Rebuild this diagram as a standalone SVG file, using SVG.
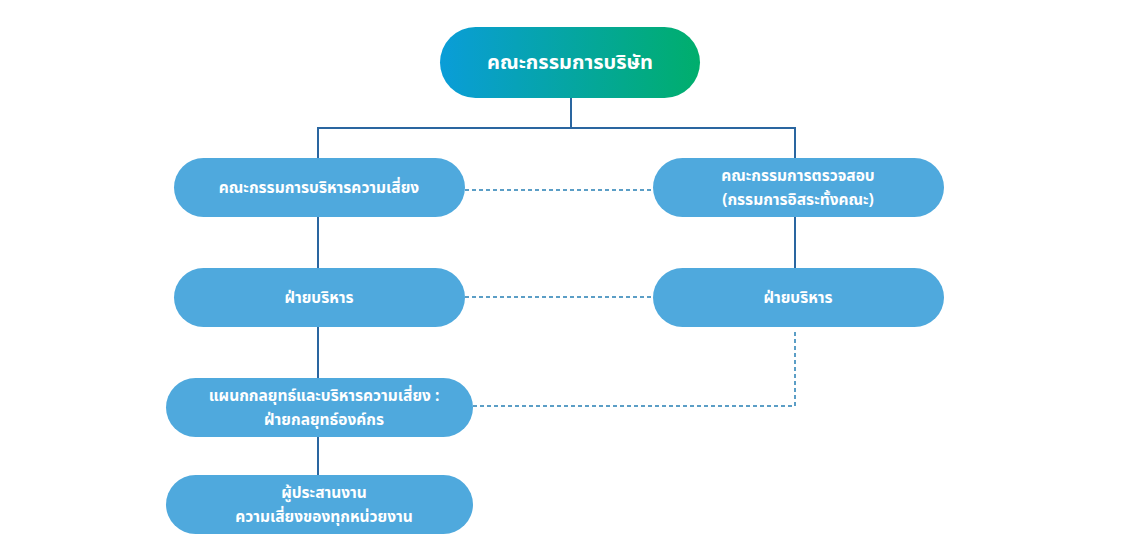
<svg xmlns="http://www.w3.org/2000/svg" width="1140" height="535" viewBox="0 0 1140 535">
<style>
.box{fill:#4fa9dd}
.t{font-family:"Noto Sans Thai","Noto Sans Thai Looped","Noto Sans",sans-serif;font-weight:bold;fill:#ffffff;text-anchor:middle;font-size:15.5px}
.top{font-size:20px}
.solid{stroke:#2a66a0;stroke-width:2;fill:none}
.dash{stroke:#5b9ec6;stroke-width:2;fill:none;stroke-dasharray:4 3}
</style>
<defs>
<linearGradient id="g" x1="0" y1="0" x2="1" y2="0">
<stop offset="0" stop-color="#0a9dd8"/>
<stop offset="1" stop-color="#00ae6c"/>
</linearGradient>
</defs>
<rect width="1140" height="535" fill="#ffffff"/>
<g id="connectors">
<path class="solid" d="M571,98 V128 M318,128 H795 M318,127 V158 M795,127 V158"/>
<path class="solid" d="M318,217 V268 M318,327 V378 M318,437 V475 M795,217 V268"/>
<path class="dash" d="M465,190 H653 M465,297 H653 M795,332 V406 H473"/>
</g>
<g id="n0">
<rect x="440" y="27" width="260" height="71" rx="35.5" fill="url(#g)"/>
<text class="t top" x="570" y="69">คณะกรรมการบริษัท</text>
</g>
<g id="n1">
<rect class="box" x="174" y="158" width="291" height="59" rx="29.5"/>
<text class="t" x="319" y="193">คณะกรรมการบริหารความเสี่ยง</text>
</g>
<g id="n2">
<rect class="box" x="653" y="158" width="291" height="59" rx="29.5"/>
<text class="t" x="798" y="181">คณะกรรมการตรวจสอบ</text>
<text class="t" x="798" y="205">(กรรมการอิสระทั้งคณะ)</text>
</g>
<g id="n3">
<rect class="box" x="174" y="268" width="291" height="59" rx="29.5"/>
<text class="t" x="319" y="303">ฝ่ายบริหาร</text>
</g>
<g id="n4">
<rect class="box" x="653" y="268" width="291" height="59" rx="29.5"/>
<text class="t" x="798" y="303">ฝ่ายบริหาร</text>
</g>
<g id="n5">
<rect class="box" x="166" y="378" width="307" height="59" rx="29.5"/>
<text class="t" x="324" y="401">แผนกกลยุทธ์และบริหารความเสี่ยง :</text>
<text class="t" x="324" y="425">ฝ่ายกลยุทธ์องค์กร</text>
</g>
<g id="n6">
<rect class="box" x="166" y="475" width="307" height="59" rx="29.5"/>
<text class="t" x="324" y="498">ผู้ประสานงาน</text>
<text class="t" x="324" y="522">ความเสี่ยงของทุกหน่วยงาน</text>
</g>
</svg>
